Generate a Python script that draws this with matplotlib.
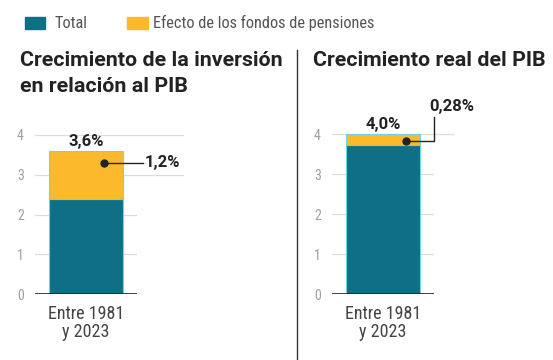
import matplotlib.pyplot as plt
from matplotlib import font_manager
from matplotlib.patches import Rectangle

# data
category = "Entre 1981\ny 2023"
inv_total = 2.4
inv_pension = 1.2
pib_total = 3.72
pib_pension = 0.28
inv_label = "3,6%"
inv_pension_label = "1,2%"
pib_label = "4,0%"
pib_pension_label = "0,28%"
yticks = [0, 1, 2, 3, 4]

teal = "#0e6f85"
yellow = "#fbb92b"
edge = "#6fd3e3"

names = {f.name for f in font_manager.fontManager.ttflist}
cond = [n for n in ['Roboto Condensed', 'Roboto'] if n in names] + ['DejaVu Sans']
wide = [n for n in ['Roboto'] if n in names] + ['DejaVu Sans']
plt.rcParams['font.family'] = cond

W, H = 553, 360
fig = plt.figure(figsize=(W / 100, H / 100), dpi=100)

lkw = dict(fontsize=12, fontweight="bold", color="#222222", family=wide)


def px_axes(x0, x1, y0, ytop):
    return fig.add_axes([x0 / W, 1 - y0 / H, (x1 - x0) / W, (y0 - ytop) / H])


def draw_panel(ax, base, top, total_label):
    ax.set_xlim(-0.5, 0.5)
    ax.set_ylim(0, 4.2)
    for v in yticks[1:]:
        ax.axhline(v, color="#dddddd", lw=0.9, zorder=0)
    ax.axhline(0, color="#222222", lw=1.2, zorder=3)
    bw = 0.73
    ax.bar(0, base, width=bw, color=teal, edgecolor=edge, lw=0.8, zorder=2)
    ax.bar(0, top, bottom=base, width=bw, color=yellow, edgecolor=edge, lw=0.8, zorder=2)
    ax.text(0, base + top + 0.06, total_label, ha="center", va="bottom", **lkw)
    for s in ax.spines.values():
        s.set_visible(False)
    ax.set_yticks(yticks)
    ax.set_yticklabels([str(v) for v in yticks])
    ax.tick_params(axis="y", length=0, pad=8, labelsize=10, labelcolor="#a0a0a0")
    ax.set_xticks([0])
    ax.set_xticklabels([category], linespacing=1.0)
    ax.tick_params(axis="x", length=0, pad=8, labelsize=13, labelcolor="#444444")


# left panel
ax1 = px_axes(35, 137, 294, 294 - 4.2 * 39.75)
draw_panel(ax1, inv_total, inv_pension, inv_label)
ax1.plot([0.5, 0.95], [3, 3], color="#dddddd", lw=0.9, clip_on=False, zorder=0)
ax1.plot([0.5, 0.95], [4, 4], color="#dddddd", lw=0.9, clip_on=False, zorder=0)
ax1.plot([0.18, 0.56], [3.3, 3.3], color="#222222", lw=1.0, clip_on=False, zorder=4)
ax1.plot([0.18], [3.3], "o", color="#222222", ms=5, zorder=5)
ax1.text(0.58, 3.3, inv_pension_label, ha="left", va="center", **lkw)

# right panel
ax2 = px_axes(332, 434, 294, 294 - 4.2 * 40)
draw_panel(ax2, pib_total, pib_pension, pib_label)
ax2.plot([0.5, 0.69], [4, 4], color="#dddddd", lw=0.9, clip_on=False, zorder=0)
ax2.plot([0.23, 0.5, 0.5], [3.83, 3.83, 4.43], color="#222222", lw=1.0,
         clip_on=False, zorder=4)
ax2.plot([0.23], [3.83], "o", color="#222222", ms=5, zorder=5)
ax2.text(0.45, 4.5, pib_pension_label, ha="left", va="bottom", **lkw)

# titles
tkw = dict(ha="left", va="center", fontsize=15.4, fontweight="bold", color="#222222",
           family=wide)
fig.text(20 / W, 1 - 61 / H, "Crecimiento de la inversión", **tkw)
fig.text(20 / W, 1 - 87 / H, "en relación al PIB", **tkw)
fig.text(313 / W, 1 - 61 / H, "Crecimiento real del PIB", **tkw)

# separator
fig.add_artist(plt.Line2D([297 / W, 297 / W], [1 - 50 / H, 0], color="#333333", lw=1.0))

# legend
fig.add_artist(Rectangle((25 / W, 1 - 29 / H), 20 / W, 12 / H, color=teal))
fig.text(55 / W, 1 - 23 / H, "Total", ha="left", va="center", fontsize=11.8,
         color="#555555")
fig.add_artist(Rectangle((127 / W, 1 - 29 / H), 21 / W, 12 / H, color=yellow))
fig.text(153 / W, 1 - 23 / H, "Efecto de los fondos de pensiones", ha="left",
         va="center", fontsize=11.8, color="#555555")

fig.savefig("out.png", dpi=100)
